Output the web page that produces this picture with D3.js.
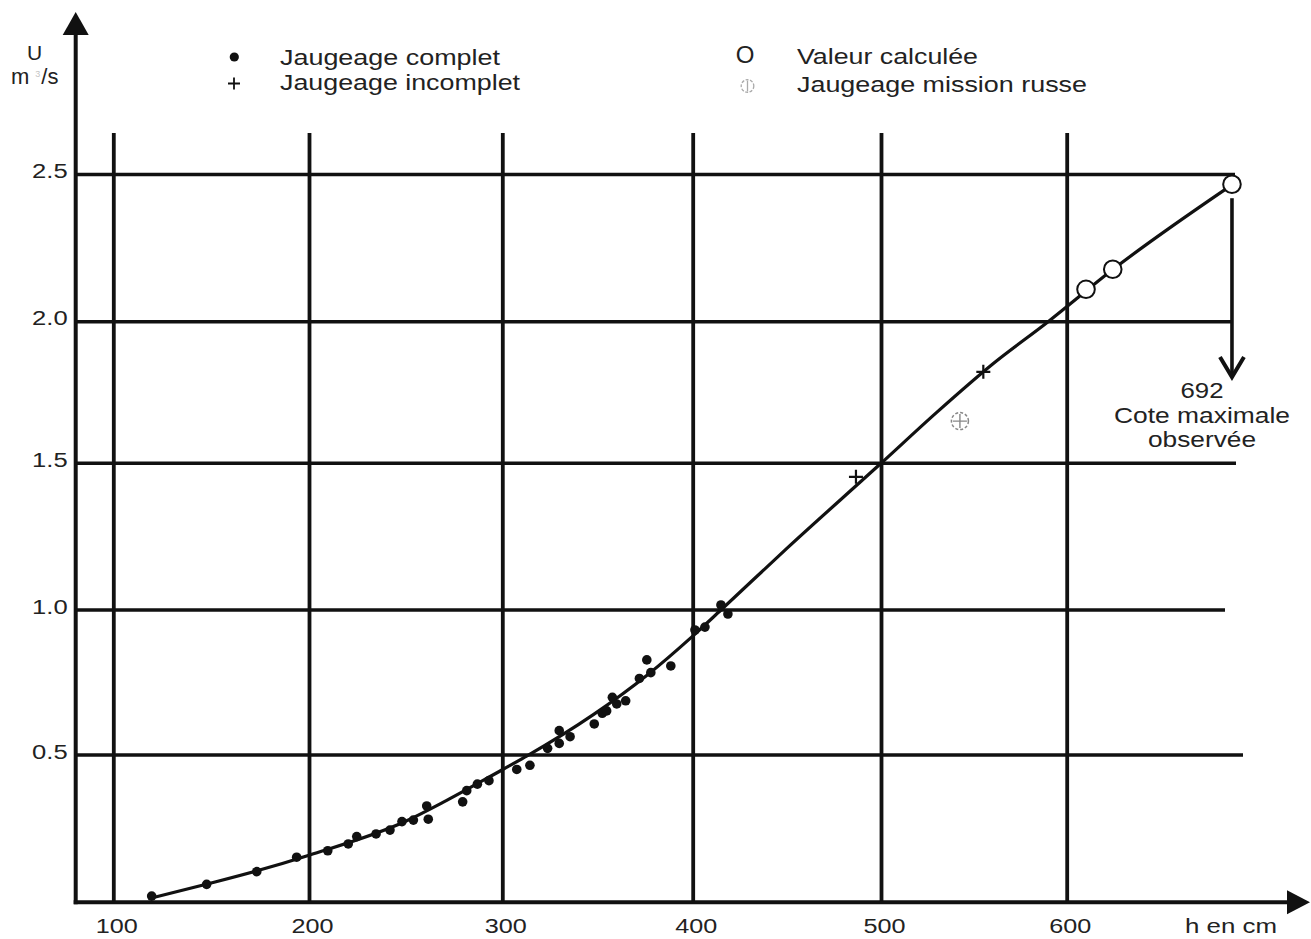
<!DOCTYPE html>
<html><head><meta charset="utf-8">
<script src="https://cdn.jsdelivr.net/npm/d3@7"></script>
<style>
body{margin:0;background:#fff}
svg{display:block}
text{font-family:"Liberation Sans",Arial,Helvetica,sans-serif;fill:#222}
</style>
</head><body>
<svg id="c" width="1311" height="939"></svg>
<script>
// ---------------- DATA ----------------
const xTicks = [100, 200, 300, 400, 500, 600];
const xTickLabels = ["100", "200", "300", "400", "500", "600"];
const yTicks = [0.5, 1.0, 1.5, 2.0, 2.5];
const yTickLabels = ["0.5", "1.0", "1.5", "2.0", "2.5"];

// Jaugeage complet (h cm, U m3/s)
const completH = [119.6,147.7,173.3,193.7,209.7,220.3,224.7,234.7,241.9,248.1,254.0,261.7,260.9,279.5,281.6,287.1,293.1,307.6,314.5,323.8,329.9,329.9,335.6,348.3,352.5,354.8,357.8,360.1,364.8,372.0,375.9,378.0,388.5,401.2,406.5,415.0,418.7];
const completU = [0.021,0.061,0.104,0.153,0.175,0.198,0.223,0.232,0.245,0.274,0.279,0.282,0.327,0.341,0.379,0.401,0.413,0.451,0.465,0.523,0.540,0.584,0.563,0.607,0.644,0.652,0.699,0.676,0.687,0.764,0.828,0.784,0.807,0.931,0.941,1.017,0.986];
// Jaugeage incomplet
const incompletH = [486.7, 555.1];
const incompletU = [1.454, 1.823];
// Valeur calculée
const calculeH = [610.4, 624.8, 689];
const calculeU = [2.110, 2.178, 2.467];
// Jaugeage mission russe
const russeH = [542.5];
const russeU = [1.649];
// Courbe de tarage
const curveH = [118, 148, 173, 200, 250, 271, 300, 313, 348, 376, 400, 415, 450, 500, 530, 560, 590, 625, 686];
const curveU = [0.012, 0.062, 0.106, 0.160, 0.275, 0.345, 0.450, 0.497, 0.640, 0.775, 0.910, 1.0, 1.21, 1.5, 1.68, 1.85, 2.0, 2.178, 2.452];
const coteMax = "692";

const legendItems = ["Jaugeage complet", "Jaugeage incomplet", "Valeur calculée", "Jaugeage mission russe"];
const annotationLines = [coteMax, "Cote maximale", "observée"];

// ---------------- LAYOUT ----------------
const svg = d3.select("#c");
const INK = "#111";
const FONT = '"Liberation Sans",Arial,Helvetica,sans-serif';
const xGridPx = [113.3, 309, 502.3, 692.7, 881, 1066.7];
const yGridPx = [902.3, 755, 610, 463.3, 321.7, 174.5];
const x = d3.scaleLinear().domain(xTicks).range(xGridPx);
const y = d3.scaleLinear().domain([0, ...yTicks]).range(yGridPx);
const axisX = 75.7;
const hOrigin = x.invert(axisX);
const gridTop = 133;
const hLineEndPx = [1243, 1225, 1236, 1233, 1235];

// vertical grid + x labels through d3 axis
const gx = svg.append("g")
  .attr("transform", `translate(0,${y(0)})`)
  .call(d3.axisBottom(x).tickValues(xTicks)
    .tickFormat((d, i) => xTickLabels[i])
    .tickSize(-(y(0) - gridTop)).tickPadding(0));
gx.attr("font-family", null).attr("font-size", null);
gx.select(".domain").remove();
gx.selectAll(".tick line").attr("stroke", INK).attr("stroke-width", 3.8);
gx.selectAll(".tick text")
  .attr("y", null).attr("dy", null)
  .attr("fill", "#333").attr("font-size", 21).attr("font-family", FONT)
  .attr("transform", "translate(3,31) scale(1.2,1)");

// horizontal grid
svg.append("g").selectAll("line").data(yTicks).join("line")
  .attr("x1", x(hOrigin)).attr("x2", (d, i) => hLineEndPx[i])
  .attr("y1", d => y(d)).attr("y2", d => y(d))
  .attr("stroke", INK).attr("stroke-width", 3.6);

// y labels through d3 axis
const gy = svg.append("g")
  .attr("transform", `translate(${axisX},0)`)
  .call(d3.axisLeft(y).tickValues(yTicks)
    .tickFormat((d, i) => yTickLabels[i])
    .tickSize(0).tickPadding(0));
gy.attr("font-family", null).attr("font-size", null);
gy.select(".domain").remove();
gy.selectAll(".tick text")
  .attr("x", null).attr("dy", null)
  .attr("fill", "#333").attr("font-size", 20).attr("font-family", FONT)
  .attr("transform", "translate(-8,3) scale(1.28,1)");

// axes lines with arrows
svg.append("line").attr("x1", axisX).attr("x2", axisX)
  .attr("y1", y(0) + 2).attr("y2", 32)
  .attr("stroke", INK).attr("stroke-width", 4);
svg.append("path").attr("d", `M${axisX - 13},35 L${axisX},12 L${axisX + 13},35 Z`).attr("fill", INK);
svg.append("line").attr("x1", axisX - 2).attr("x2", 1290)
  .attr("y1", y(0)).attr("y2", y(0))
  .attr("stroke", INK).attr("stroke-width", 4);
svg.append("path").attr("d", `M1287,${y(0) - 12} L1310,${y(0)} L1287,${y(0) + 12} Z`).attr("fill", INK);

// axis titles
svg.append("text").attr("x", 34.5).attr("y", 60)
  .attr("text-anchor", "middle").attr("font-size", 21).text("U");
const tM = svg.append("text").attr("x", 11).attr("y", 84).attr("font-size", 22);
tM.append("tspan").text("m");
tM.append("tspan").attr("font-size", 9).attr("dy", -7).attr("dx", 6).style("fill", "#c4c4c4").text("3");
tM.append("tspan").attr("dy", 7).attr("dx", 1).text("/s");
svg.append("text").attr("x", 1185).attr("y", 933)
  .attr("font-size", 21).attr("fill", "#333")
  .attr("textLength", 92).attr("lengthAdjust", "spacingAndGlyphs")
  .text("h en cm");

// rating curve
const line = d3.line().x(d => x(d[0])).y(d => y(d[1])).curve(d3.curveMonotoneX);
svg.append("path").datum(d3.zip(curveH, curveU))
  .attr("d", line).attr("fill", "none")
  .attr("stroke", INK).attr("stroke-width", 3.2).attr("stroke-linejoin", "round");

// jaugeage complet
svg.append("g").selectAll("circle").data(d3.zip(completH, completU)).join("circle")
  .attr("cx", d => x(d[0])).attr("cy", d => y(d[1])).attr("r", 4.8).attr("fill", INK);

// jaugeage incomplet
svg.append("g").selectAll("path").data(d3.zip(incompletH, incompletU)).join("path")
  .attr("d", d => { const cx = x(d[0]), cy = y(d[1]); return `M${cx - 7},${cy}H${cx + 7}M${cx},${cy - 7}V${cy + 7}`; })
  .attr("stroke", INK).attr("stroke-width", 2.2).attr("fill", "none");

// mission russe
const gr = svg.append("g").selectAll("g").data(d3.zip(russeH, russeU)).join("g")
  .attr("transform", d => `translate(${x(d[0])},${y(d[1])})`);
gr.append("circle").attr("r", 8.5).attr("fill", "none").attr("stroke", "#888")
  .attr("stroke-width", 1.5).attr("stroke-dasharray", "3 2");
gr.append("path").attr("d", "M-7,0H7M0,-7V7").attr("stroke", "#888").attr("stroke-width", 1.4);

// valeurs calculées
svg.append("g").selectAll("circle").data(d3.zip(calculeH, calculeU)).join("circle")
  .attr("cx", d => x(d[0])).attr("cy", d => y(d[1])).attr("r", 8.8)
  .attr("fill", "#fff").attr("stroke", INK).attr("stroke-width", 2);

// cote maximale arrow
const ax = x(calculeH[calculeH.length - 1]);
const ay0 = y(calculeU[calculeU.length - 1]) + 14;
svg.append("line").attr("x1", ax).attr("x2", ax).attr("y1", ay0).attr("y2", 376)
  .attr("stroke", INK).attr("stroke-width", 3.6);
svg.append("path").attr("d", `M${ax - 12},357 L${ax},377 L${ax + 12},357`)
  .attr("fill", "none").attr("stroke", INK).attr("stroke-width", 4);

const annW = [43, 176, 108];
const annY = [398, 423, 447];
svg.append("g").selectAll("text").data(annotationLines).join("text")
  .attr("x", 1202).attr("y", (d, i) => annY[i]).attr("text-anchor", "middle")
  .attr("font-size", 22).attr("fill", "#333")
  .attr("textLength", (d, i) => annW[i]).attr("lengthAdjust", "spacingAndGlyphs")
  .text(d => d);

// legend
const legX = [280, 280, 797, 797];
const legY = [65, 90, 64, 92];
const legW = [220, 240, 181, 290];
svg.append("g").selectAll("text").data(legendItems).join("text")
  .attr("x", (d, i) => legX[i]).attr("y", (d, i) => legY[i])
  .attr("font-size", 22).attr("fill", "#222")
  .attr("textLength", (d, i) => legW[i]).attr("lengthAdjust", "spacingAndGlyphs")
  .text(d => d);
svg.append("circle").attr("cx", 234.3).attr("cy", 57).attr("r", 4.6).attr("fill", INK);
svg.append("path").attr("d", "M228,83.5H240M234,77.5V89.5").attr("stroke", INK).attr("stroke-width", 1.8);
svg.append("text").attr("x", 745).attr("y", 63).attr("text-anchor", "middle")
  .attr("font-size", 24).attr("fill", "#222").text("O");
svg.append("circle").attr("cx", 747.5).attr("cy", 86).attr("r", 6.3)
  .attr("fill", "none").attr("stroke", "#aaa").attr("stroke-width", 1.3).attr("stroke-dasharray", "3 1.5");
svg.append("line").attr("x1", 747.5).attr("x2", 747.5).attr("y1", 80.5).attr("y2", 91.5)
  .attr("stroke", "#aaa").attr("stroke-width", 1.3);
</script>
</body></html>
